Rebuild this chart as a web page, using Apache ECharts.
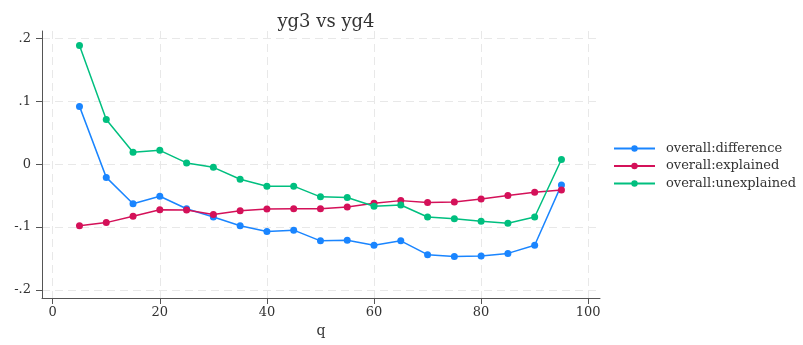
<!DOCTYPE html>
<html>
<head>
<meta charset="utf-8">
<script src="https://cdn.jsdelivr.net/npm/echarts@6/dist/echarts.min.js"></script>
<style>
  html, body { margin: 0; padding: 0; background: #fff; }
  #chart { width: 803px; height: 345px; }
</style>
</head>
<body>
<div id="chart"></div>
<script>
// Quantiles q and decomposition components
const quantiles = [5, 10, 15, 20, 25, 30, 35, 40, 45, 50, 55, 60, 65, 70, 75, 80, 85, 90, 95];
const difference = [0.092, -0.021, -0.063, -0.051, -0.071, -0.084, -0.098, -0.107, -0.105, -0.122, -0.121, -0.129, -0.122, -0.144, -0.147, -0.146, -0.142, -0.129, -0.033];
const explained = [-0.098, -0.093, -0.083, -0.0725, -0.073, -0.080, -0.074, -0.0715, -0.071, -0.071, -0.068, -0.062, -0.058, -0.061, -0.060, -0.0555, -0.050, -0.0445, -0.041];
const unexplained = [0.189, 0.071, 0.019, 0.022, 0.002, -0.005, -0.024, -0.035, -0.035, -0.052, -0.053, -0.067, -0.065, -0.084, -0.087, -0.091, -0.094, -0.084, 0.0075];

const seriesNames = ['overall:difference', 'overall:explained', 'overall:unexplained'];
const seriesColors = ['#1a85ff', '#d41159', '#00bf7f'];
const xTicks = [0, 20, 40, 60, 80, 100];
const yTicks = [-0.2, -0.1, 0, 0.1, 0.2];

const FONT = 'DejaVu Serif';

function fmtY(v) {
  if (Math.abs(v) < 1e-9) return '0';
  const s = (Math.round(v * 10) / 10).toString();
  return s.replace('0.', '.');
}

const chart = echarts.init(document.getElementById('chart'), null, { renderer: 'canvas' });

const dataSets = [difference, explained, unexplained];

chart.setOption({
  animation: false,
  backgroundColor: '#ffffff',
  title: {
    text: 'yg3 vs yg4',
    left: 321,
    textAlign: 'center',
    top: 8,
    textStyle: { fontFamily: FONT, fontSize: 18, fontWeight: 'normal', color: '#333' }
  },
  legend: {
    orient: 'vertical',
    left: 608,
    top: 137,
    itemWidth: 41,
    itemHeight: 8,
    itemGap: 4.5,
    data: seriesNames,
    textStyle: { fontFamily: FONT, fontSize: 13, color: '#333', padding: [0, 0, 0, 6] }
  },
  grid: { left: 42, right: 203, top: 31, bottom: 47, containLabel: false },
  xAxis: {
    type: 'value',
    min: -2,
    max: 102.2,
    name: 'q',
    nameLocation: 'middle',
    nameGap: 26,
    nameTextStyle: { fontFamily: FONT, fontSize: 14, color: '#333' },
    axisLine: { show: true, onZero: false, lineStyle: { color: '#555', width: 1 } },
    axisTick: { show: true, length: 6, customValues: xTicks, lineStyle: { color: '#555' } },
    axisLabel: { customValues: xTicks, fontFamily: FONT, fontSize: 13, color: '#333', margin: 8 },
    splitLine: { show: true, lineStyle: { color: '#e8e8e8', type: [8, 5], width: 1 } }
  },
  yAxis: {
    type: 'value',
    min: -0.213,
    max: 0.212,
    axisLine: { show: true, onZero: false, lineStyle: { color: '#555', width: 1 } },
    axisTick: { show: true, length: 6, customValues: yTicks, lineStyle: { color: '#555' } },
    axisLabel: { customValues: yTicks, formatter: fmtY, fontFamily: FONT, fontSize: 13, color: '#333', margin: 11 },
    splitLine: { show: true, lineStyle: { color: '#e8e8e8', type: [8, 5], width: 1 } }
  },
  series: seriesNames.map((name, i) => ({
    name: name,
    type: 'line',
    data: quantiles.map((q, k) => [q, dataSets[i][k]]),
    symbol: 'circle',
    symbolSize: 7,
    showSymbol: true,
    color: seriesColors[i],
    lineStyle: { width: 1.5, color: seriesColors[i] },
    itemStyle: { color: seriesColors[i] }
  }))
});
</script>
</body>
</html>
